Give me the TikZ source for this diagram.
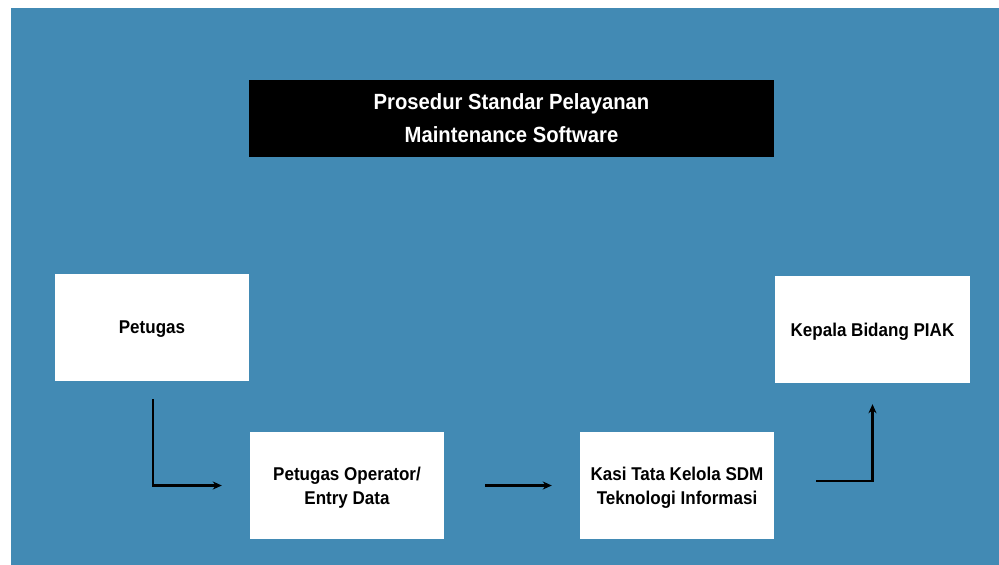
\documentclass[tikz,border=0pt]{standalone}
\usepackage{fontspec}
\setmainfont{Liberation Sans}[FakeStretch=0.92]
\usetikzlibrary{arrows.meta}
\definecolor{bgblue}{RGB}{66,138,180}
\begin{document}
\begin{tikzpicture}[x=1pt,y=-1pt,
    box/.style={fill=white,minimum width=194pt,minimum height=107pt,text depth=0pt,
      align=center,font=\fontsize{18.5}{24}\selectfont\bfseries,inner sep=0pt},
    titlebox/.style={fill=black,text=white,minimum width=525pt,minimum height=77pt,
      align=center,font=\fontsize{22}{33}\selectfont\bfseries,inner sep=0pt},
    flow/.style={line width=2.2pt,-{Stealth[length=9pt,width=8pt]}}]
      \useasboundingbox (0,0) rectangle (999,565);
      \fill[bgblue] (11,8) rectangle (999,565);
      \draw
        (511.5,118.5) node[titlebox] (title){Prosedur Standar Pelayanan\\Maintenance Software}
        (152,327.5) node[box] (petugas){Petugas}
        (347,485.5) node[box] (operator){Petugas Operator/\\Entry Data}
        (677,485.5) node[box] (kasi){Kasi Tata Kelola SDM\\Teknologi Informasi}
        (872.5,329.5) node[box,minimum width=195pt] (kepala){Kepala Bidang PIAK};
      \begin{scope}[flow]
        \draw ([xshift=1pt,yshift=-18pt]petugas.south) |- ([xshift=-28pt]operator.west);
        \draw ([xshift=41pt]operator.east) -- ([xshift=-28pt]kasi.west);
        \draw ([xshift=42pt,yshift=4.5pt]kasi.east) -| ([yshift=-21pt]kepala.south);
      \end{scope}
    \end{tikzpicture}
\end{document}
